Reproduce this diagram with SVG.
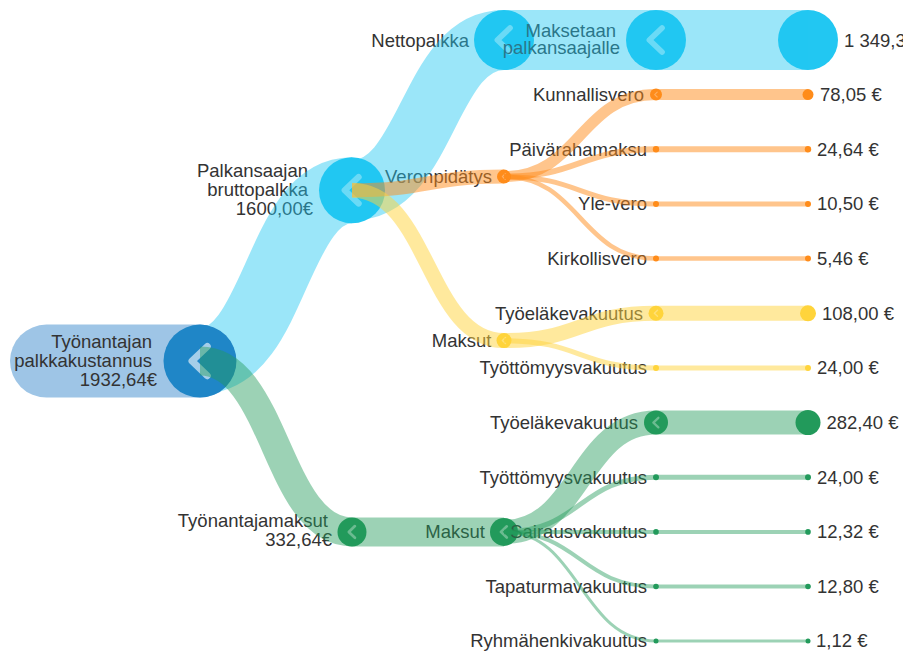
<svg xmlns="http://www.w3.org/2000/svg" xmlns:xlink="http://www.w3.org/1999/xlink" width="903" height="653" viewBox="0 0 903 653">
<style>
.t{font-family:"Liberation Sans",Arial,sans-serif;font-size:18.5px;fill:#333}
.e{text-anchor:end}
.l{fill:none}
.scy{stroke:#22c7f2;stroke-opacity:.45}
.sor{stroke:#ff8c1a;stroke-opacity:.5}
.sye{stroke:#ffd43b;stroke-opacity:.5}
.sgr{stroke:#249b5c;stroke-opacity:.45}
.fcy{fill:#22c7f2}
.for{fill:#ff8c1a}
.fye{fill:#ffd43b}
.fgr{fill:#229a5b}
</style>
<defs>
<path id="chev" d="M0.2,-0.4 L-0.22,0 L0.2,0.4" fill="none" stroke="#fff" stroke-opacity="0.6" stroke-width="0.19" stroke-linecap="round" stroke-linejoin="round"/>
<mask id="noroot" maskUnits="userSpaceOnUse" x="0" y="0" width="903" height="653">
<rect x="0" y="0" width="903" height="653" fill="#fff"/>
<circle cx="200" cy="361.1" r="36.5" fill="#000"/>
</mask>
</defs>

<!-- nodes -->
<g id="n-root">
<rect x="10" y="324.6" width="226.5" height="73" rx="36.5" fill="#9ec5e6"/>
<circle cx="200" cy="361.1" r="36.5" fill="#1f86c7"/>
<use href="#chev" transform="translate(200,361.1) scale(36.5)"/>
<text class="t e" x="152" y="348">Työnantajan</text>
<text class="t e" x="152" y="367">palkkakustannus</text>
<text class="t e" x="157" y="385.5">1932,64€</text>
</g>
<g id="n-brutto">
<circle cx="352" cy="190.3" r="33" class="fcy"/>
<use href="#chev" transform="translate(352,190.3) scale(33)"/>
<text class="t e" x="308" y="177">Palkansaajan</text>
<text class="t e" x="308" y="196">bruttopalkka</text>
<text class="t e" x="313" y="215">1600,00€</text>
</g>
<g id="n-employer">
<circle cx="352" cy="531.9" r="14.5" class="fgr"/>
<use href="#chev" transform="translate(352,531.9) scale(14.5)"/>
<text class="t e" x="328" y="527">Työnantajamaksut</text>
<text class="t e" x="332" y="546">332,64€</text>
</g>
<g id="n-netto">
<circle cx="504" cy="40" r="30" class="fcy"/>
<use href="#chev" transform="translate(504,40) scale(30)"/>
<text class="t e" x="469" y="46.5">Nettopalkka</text>
</g>
<g id="n-veron">
<circle cx="504" cy="176.6" r="7" class="for"/>
<use href="#chev" transform="translate(504,176.6) scale(7)"/>
<text class="t e" x="492" y="183">Veronpidätys</text>
</g>
<g id="n-maksut-y">
<circle cx="504" cy="340.6" r="7.5" class="fye"/>
<use href="#chev" transform="translate(504,340.6) scale(7.5)"/>
<text class="t e" x="491.5" y="347">Maksut</text>
</g>
<g id="n-maksut-g">
<circle cx="504" cy="531.9" r="14" class="fgr"/>
<use href="#chev" transform="translate(504,531.9) scale(14)"/>
<text class="t e" x="485" y="538.3">Maksut</text>
</g>
<g id="n-maksetaan">
<circle cx="656" cy="40" r="30" class="fcy"/>
<use href="#chev" transform="translate(656,40) scale(30)"/>
<circle cx="808" cy="40" r="30" class="fcy"/>
<text class="t e" x="616" y="36.5">Maksetaan</text>
<text class="t e" x="620" y="54">palkansaajalle</text>
<text class="t" x="844" y="46.5">1 349,35 €</text>
</g>
<g id="n-kunnallisvero">
<circle cx="656" cy="94.6" r="6" class="for"/>
<use href="#chev" transform="translate(656,94.6) scale(6)"/>
<circle cx="808" cy="94.6" r="5.5" class="for"/>
<text class="t e" x="644" y="101">Kunnallisvero</text>
<text class="t" x="820" y="101">78,05 €</text>
</g>
<g id="n-paivaraha">
<circle cx="656" cy="149.3" r="3.2" class="for"/>
<circle cx="808" cy="149.3" r="3.2" class="for"/>
<text class="t e" x="647" y="155.7">Päivärahamaksu</text>
<text class="t" x="817" y="155.7">24,64 €</text>
</g>
<g id="n-yle">
<circle cx="656" cy="204" r="3" class="for"/>
<circle cx="808" cy="204" r="3" class="for"/>
<text class="t e" x="647" y="210.4">Yle-vero</text>
<text class="t" x="817" y="210.4">10,50 €</text>
</g>
<g id="n-kirkollisvero">
<circle cx="656" cy="258.6" r="3" class="for"/>
<circle cx="808" cy="258.6" r="3" class="for"/>
<text class="t e" x="647" y="265">Kirkollisvero</text>
<text class="t" x="817" y="265">5,46 €</text>
</g>
<g id="n-tyoelake-y">
<circle cx="656" cy="313.3" r="7.5" class="fye"/>
<use href="#chev" transform="translate(656,313.3) scale(7.5)"/>
<circle cx="808" cy="313.3" r="8" class="fye"/>
<text class="t e" x="643" y="319.7">Työeläkevakuutus</text>
<text class="t" x="822" y="319.7">108,00 €</text>
</g>
<g id="n-tyottomyys-y">
<circle cx="656" cy="368" r="3" class="fye"/>
<circle cx="808" cy="368" r="3" class="fye"/>
<text class="t e" x="647" y="374.4">Työttömyysvakuutus</text>
<text class="t" x="817" y="374.4">24,00 €</text>
</g>
<g id="n-tyoelake-g">
<circle cx="656" cy="422.6" r="12" class="fgr"/>
<use href="#chev" transform="translate(656,422.6) scale(12)"/>
<circle cx="808" cy="422.6" r="12.5" class="fgr"/>
<text class="t e" x="638" y="429">Työeläkevakuutus</text>
<text class="t" x="826.5" y="429">282,40 €</text>
</g>
<g id="n-tyottomyys-g">
<circle cx="656" cy="477.2" r="3" class="fgr"/>
<circle cx="808" cy="477.2" r="3" class="fgr"/>
<text class="t e" x="647" y="483.6">Työttömyysvakuutus</text>
<text class="t" x="817" y="483.6">24,00 €</text>
</g>
<g id="n-sairaus">
<circle cx="656" cy="531.9" r="2.8" class="fgr"/>
<circle cx="808" cy="531.9" r="2.8" class="fgr"/>
<text class="t e" x="647" y="538.3">Sairausvakuutus</text>
<text class="t" x="817" y="538.3">12,32 €</text>
</g>
<g id="n-tapaturma">
<circle cx="656" cy="586.5" r="2.8" class="fgr"/>
<circle cx="808" cy="586.5" r="2.8" class="fgr"/>
<text class="t e" x="647" y="592.9">Tapaturmavakuutus</text>
<text class="t" x="817" y="592.9">12,80 €</text>
</g>
<g id="n-ryhmahenki">
<circle cx="656" cy="641" r="2.5" class="fgr"/>
<circle cx="808" cy="641" r="2.5" class="fgr"/>
<text class="t e" x="647" y="647.4">Ryhmähenkivakuutus</text>
<text class="t" x="816" y="647.4">1,12 €</text>
</g>

<!-- connectors -->
<g id="connectors" class="l">
<path class="scy" stroke-width="66" mask="url(#noroot)" d="M200,361.1 C276,361.1 276,190.3 352,190.3"/>
<path class="scy" stroke-width="60" d="M352,190.3 C428,190.3 428,40 504,40"/>
<path class="scy" stroke-width="60" d="M504,40 H656"/>
<path class="scy" stroke-width="60" d="M656,40 H808"/>
<path class="sgr" stroke-width="29" d="M200,361.1 C276,361.1 276,531.9 352,531.9"/>
<path class="sor" stroke-width="14" d="M352,190.3 C428,190.3 428,176.6 504,176.6"/>
<path class="sye" stroke-width="15" d="M352,190.3 C428,190.3 428,340.6 504,340.6"/>
<path class="sgr" stroke-width="29" d="M352,531.9 H504"/>
<path class="sor" stroke-width="11" d="M504,176.6 C580,176.6 580,94.6 656,94.6"/>
<path class="sor" stroke-width="6" d="M504,176.6 C580,176.6 580,149.3 656,149.3"/>
<path class="sor" stroke-width="5" d="M504,176.6 C580,176.6 580,204 656,204"/>
<path class="sor" stroke-width="4.5" d="M504,176.6 C580,176.6 580,258.6 656,258.6"/>
<path class="sor" stroke-width="11" d="M656,94.6 H808"/>
<path class="sor" stroke-width="6" d="M656,149.3 H808"/>
<path class="sor" stroke-width="5" d="M656,204 H808"/>
<path class="sor" stroke-width="4.5" d="M656,258.6 H808"/>
<path class="sye" stroke-width="15" d="M504,340.6 C580,340.6 580,313.3 656,313.3"/>
<path class="sye" stroke-width="5" d="M504,340.6 C580,340.6 580,368 656,368"/>
<path class="sye" stroke-width="15" d="M656,313.3 H808"/>
<path class="sye" stroke-width="5" d="M656,368 H808"/>
<path class="sgr" stroke-width="24" d="M504,531.9 C580,531.9 580,422.6 656,422.6"/>
<path class="sgr" stroke-width="5" d="M504,531.9 C580,531.9 580,477.2 656,477.2"/>
<path class="sgr" stroke-width="4" d="M504,531.9 H656"/>
<path class="sgr" stroke-width="4" d="M504,531.9 C580,531.9 580,586.5 656,586.5"/>
<path class="sgr" stroke-width="3" d="M504,531.9 C580,531.9 580,641 656,641"/>
<path class="sgr" stroke-width="24" d="M656,422.6 H808"/>
<path class="sgr" stroke-width="5" d="M656,477.2 H808"/>
<path class="sgr" stroke-width="4" d="M656,531.9 H808"/>
<path class="sgr" stroke-width="4" d="M656,586.5 H808"/>
<path class="sgr" stroke-width="3" d="M656,641 H808"/>
</g>
</svg>
